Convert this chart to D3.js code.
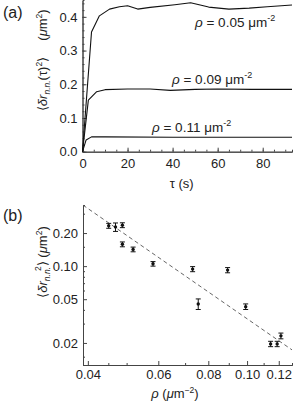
<!DOCTYPE html>
<html>
<head>
<meta charset="utf-8">
<script src="https://cdn.jsdelivr.net/npm/d3@7"></script>
<style>
body { margin: 0; background: #fff; }
svg { display: block; font-family: "Liberation Sans", Arial, sans-serif; }
</style>
</head>
<body>
<div id="chart"></div>
<script>
// Figure size
const width = 300;
const height = 407;

// Panel (a): <δr²>(τ) curves for three densities
const tau05 = [0, 4, 7.5, 12, 16.4, 20, 24.5, 30, 41, 48, 56, 65, 74, 82, 93];
const msd05 = [0, 0.355, 0.403, 0.423, 0.43, 0.433, 0.423, 0.428, 0.436, 0.442, 0.429, 0.423, 0.426, 0.43, 0.435];
const tau09 = [0, 2.6, 6.3, 10, 20, 30, 39, 50, 60, 75, 93];
const msd09 = [0, 0.153, 0.178, 0.184, 0.186, 0.186, 0.182, 0.185, 0.186, 0.185, 0.185];
const tau11 = [0, 1.6, 4, 10, 40, 93];
const msd11 = [0, 0.035, 0.044, 0.044, 0.043, 0.043];
const curveLabels = ["0.05", "0.09", "0.11"];

// Panel (b): plateau value vs density, with error bars
const rho = [0.0451, 0.0469, 0.0488, 0.0488, 0.0519, 0.0582, 0.0731, 0.0755, 0.0894, 0.0992, 0.1145, 0.1189, 0.1215];
const msdPlateau = [0.233, 0.227, 0.236, 0.158, 0.142, 0.105, 0.094, 0.0453, 0.092, 0.0428, 0.0196, 0.0196, 0.0232];
const msdErr = [0.012, 0.02, 0.012, 0.008, 0.007, 0.005, 0.005, 0.005, 0.005, 0.0025, 0.0011, 0.0011, 0.0014];
// power-law fit drawn as dashed line (end points)
const fitRho = [0.0389, 0.1295];
const fitMsd = [0.359, 0.0173];

// Tick labels
const ticksTauA = [0, 20, 40, 60, 80];
const ticksMsdA = [0, 0.1, 0.2, 0.3, 0.4];
const ticksRhoB = [0.04, 0.06, 0.08, 0.10, 0.12];
const ticksMsdB = [0.02, 0.05, 0.10, 0.20];

const STYLES = {
    axis: "#444",
    text: "#222",
    line: "#111",
    dash: "#555",
    fontSize: 13
};

const svg = d3.select("#chart")
    .append("svg")
    .attr("width", width)
    .attr("height", height);

// ---------- panel (a) ----------
const xA = d3.scaleLinear().domain([0, 93]).range([82.5, 292]);
const yA = d3.scaleLinear().domain([0, 0.45]).range([151.7, 0]);

const gA = svg.append("g");

function styleAxis(g) {
    g.selectAll(".domain").attr("stroke", STYLES.axis);
    g.selectAll(".tick line").attr("stroke", STYLES.axis);
    g.selectAll(".tick text")
        .attr("fill", STYLES.text)
        .style("font-size", STYLES.fontSize + "px")
        .style("font-family", "'Liberation Sans', Arial, sans-serif");
}

// minor ticks
gA.append("g")
    .attr("transform", `translate(0,${yA(0)})`)
    .call(d3.axisBottom(xA).tickValues(d3.range(0, 93, 5)).tickSize(-2).tickFormat(""))
    .call(styleAxis);
gA.append("g")
    .attr("transform", `translate(${xA(0)},0)`)
    .call(d3.axisLeft(yA).tickValues(d3.range(0, 0.451, 0.02)).tickSize(-2).tickFormat(""))
    .call(styleAxis);
// major ticks
gA.append("g")
    .attr("transform", `translate(0,${yA(0)})`)
    .call(d3.axisBottom(xA).tickValues(ticksTauA).tickSize(-4).tickPadding(7).tickSizeOuter(0))
    .call(styleAxis);
gA.append("g")
    .attr("transform", `translate(${xA(0)},0)`)
    .call(d3.axisLeft(yA).tickValues(ticksMsdA).tickSize(-4).tickPadding(5).tickFormat(d3.format(".1f")).tickSizeOuter(0))
    .call(styleAxis);

const lineA = d3.line().x(d => xA(d[0])).y(d => yA(d[1]));
[[tau05, msd05], [tau09, msd09], [tau11, msd11]].forEach(([t, m]) => {
    gA.append("path")
        .attr("d", lineA(d3.zip(t, m)))
        .attr("fill", "none")
        .attr("stroke", STYLES.line)
        .attr("stroke-width", 1.1)
        .attr("stroke-linejoin", "round");
});

// curve labels  ρ = … μm⁻²
const labelPos = [[195, 27], [172, 84], [152, 132]];
curveLabels.forEach((v, i) => {
    const t = gA.append("text")
        .attr("x", labelPos[i][0])
        .attr("y", labelPos[i][1])
        .attr("fill", STYLES.text)
        .style("font-size", "13.5px");
    t.append("tspan").style("font-style", "italic").text("ρ");
    t.append("tspan").text(` = ${v} μm`);
    t.append("tspan").attr("dy", -6).style("font-size", "9px").text("-2");
});

// axis titles (a)
svg.append("text")
    .attr("x", 181.7).attr("y", 188)
    .attr("text-anchor", "middle")
    .attr("fill", STYLES.text)
    .style("font-size", "13px")
    .text("τ (s)");

const yTitleA = svg.append("text")
    .attr("transform", "translate(47,84) rotate(-90)")
    .attr("text-anchor", "middle")
    .attr("fill", STYLES.text)
    .style("font-size", "13px");
yTitleA.append("tspan").text("⟨");
yTitleA.append("tspan").style("font-style", "italic").text("δr");
yTitleA.append("tspan").attr("dy", 3).style("font-size", "8.5px").style("font-style", "italic").text("n.n.");
yTitleA.append("tspan").attr("dy", -3).text("(τ)");
yTitleA.append("tspan").attr("dy", -5).style("font-size", "8.5px").text("2");
yTitleA.append("tspan").attr("dy", 5).text("⟩");

const unitA = svg.append("text")
    .attr("transform", "translate(47,25) rotate(-90)")
    .attr("text-anchor", "middle")
    .attr("fill", STYLES.text)
    .style("font-size", "13px");
unitA.append("tspan").text("(");
unitA.append("tspan").style("font-style", "italic").text("μ");
unitA.append("tspan").text("m");
unitA.append("tspan").attr("dy", -5).style("font-size", "8.5px").text("2");
unitA.append("tspan").attr("dy", 5).text(")");

svg.append("text")
    .attr("x", 3).attr("y", 18)
    .attr("fill", STYLES.text)
    .style("font-size", "16px")
    .text("(a)");

// ---------- panel (b) ----------
const xB = d3.scaleLog().domain([0.0389, 0.1295]).range([83, 292]);
const yB = d3.scaleLog().domain([0.0126, 0.36]).range([365, 205]);

const gB = svg.append("g");

gB.append("g")
    .attr("transform", `translate(0,${yB.range()[0]})`)
    .call(d3.axisBottom(xB).tickValues([0.045, 0.05, 0.07, 0.09, 0.11]).tickSize(-2).tickFormat(""))
    .call(styleAxis);
gB.append("g")
    .attr("transform", `translate(${xB.range()[0]},0)`)
    .call(d3.axisLeft(yB).tickValues([0.015, 0.03, 0.04, 0.06, 0.07, 0.08, 0.09, 0.15, 0.3]).tickSize(-2).tickFormat(""))
    .call(styleAxis);
gB.append("g")
    .attr("transform", `translate(0,${yB.range()[0]})`)
    .call(d3.axisBottom(xB).tickValues(ticksRhoB).tickSize(-4).tickPadding(5).tickFormat(d3.format(".2f")).tickSizeOuter(0))
    .call(styleAxis);
gB.append("g")
    .attr("transform", `translate(${xB.range()[0]},0)`)
    .call(d3.axisLeft(yB).tickValues(ticksMsdB).tickSize(-4).tickPadding(5).tickFormat(d3.format(".2f")).tickSizeOuter(0))
    .call(styleAxis);

// dashed fit
gB.append("path")
    .attr("d", d3.line().x(d => xB(d[0])).y(d => yB(d[1]))(d3.zip(fitRho, fitMsd)))
    .attr("fill", "none")
    .attr("stroke", STYLES.dash)
    .attr("stroke-width", 0.9)
    .attr("stroke-dasharray", "4,3");

// error bars + points
const pts = rho.map((r, i) => ({ r, m: msdPlateau[i], e: msdErr[i] }));
const eb = gB.selectAll("g.pt")
    .data(pts)
    .enter()
    .append("g")
    .attr("class", "pt");
eb.append("line")
    .attr("x1", d => xB(d.r)).attr("x2", d => xB(d.r))
    .attr("y1", d => yB(d.m - d.e)).attr("y2", d => yB(d.m + d.e))
    .attr("stroke", STYLES.line).attr("stroke-width", 1);
eb.append("line")
    .attr("x1", d => xB(d.r) - 2.5).attr("x2", d => xB(d.r) + 2.5)
    .attr("y1", d => yB(d.m + d.e)).attr("y2", d => yB(d.m + d.e))
    .attr("stroke", STYLES.line).attr("stroke-width", 1);
eb.append("line")
    .attr("x1", d => xB(d.r) - 2.5).attr("x2", d => xB(d.r) + 2.5)
    .attr("y1", d => yB(d.m - d.e)).attr("y2", d => yB(d.m - d.e))
    .attr("stroke", STYLES.line).attr("stroke-width", 1);
eb.append("circle")
    .attr("cx", d => xB(d.r)).attr("cy", d => yB(d.m))
    .attr("r", 1.7)
    .attr("fill", STYLES.line);

// axis titles (b)
const xTitleB = svg.append("text")
    .attr("x", 175).attr("y", 398)
    .attr("text-anchor", "middle")
    .attr("fill", STYLES.text)
    .style("font-size", "13px");
xTitleB.append("tspan").style("font-style", "italic").text("ρ");
xTitleB.append("tspan").text(" (");
xTitleB.append("tspan").style("font-style", "italic").text("μ");
xTitleB.append("tspan").text("m");
xTitleB.append("tspan").attr("dy", -5).style("font-size", "8.5px").text("−2");
xTitleB.append("tspan").attr("dy", 5).text(")");

const yTitleB = svg.append("text")
    .attr("transform", "translate(47,262) rotate(-90)")
    .attr("text-anchor", "middle")
    .attr("fill", STYLES.text)
    .style("font-size", "13px");
yTitleB.append("tspan").text("⟨");
yTitleB.append("tspan").style("font-style", "italic").text("δr");
yTitleB.append("tspan").attr("dy", 3).style("font-size", "8.5px").style("font-style", "italic").text("n.n.");
yTitleB.append("tspan").attr("dx", -4).attr("dy", -9).style("font-size", "8.5px").text("2");
yTitleB.append("tspan").attr("dy", 6).text("⟩ (");
yTitleB.append("tspan").style("font-style", "italic").text("μ");
yTitleB.append("tspan").text("m");
yTitleB.append("tspan").attr("dy", -5).style("font-size", "8.5px").text("2");
yTitleB.append("tspan").attr("dy", 5).text(")");

svg.append("text")
    .attr("x", 3).attr("y", 221)
    .attr("fill", STYLES.text)
    .style("font-size", "16px")
    .text("(b)");
</script>
</body>
</html>
